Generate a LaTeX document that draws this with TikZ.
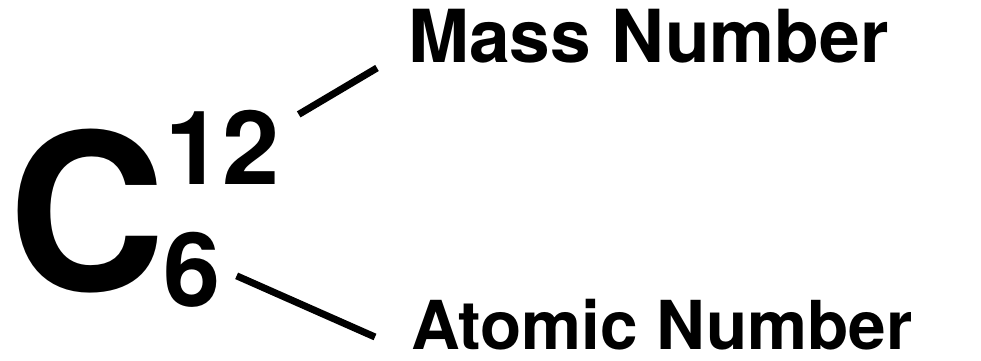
\documentclass[tikz,border=0pt]{standalone}
\usepackage{fontspec}
\setmainfont{TeX Gyre Heros}
\usepackage{tikz}

\begin{document}
\begin{tikzpicture}[x=0.025cm,y=-0.025cm,
    txt/.style={inner sep=0pt,anchor=base west,text depth=0pt,font=\bfseries},
    pointer/.style={line width=5pt}]
  \useasboundingbox (0,0) rectangle (981,361);
  % ── Symbol with its two numbers ───────────────────
  \node[txt,font=\bfseries\fontsize{155}{155}\selectfont] (elem) at (8,290) {C};
  \node[txt,font=\bfseries\fontsize{73}{73}\selectfont] (mass12) at (165,185) {12};
  \node[txt,font=\bfseries\fontsize{73}{73}\selectfont] (atom6) at (163,306) {6};
  % ── Labels on the right ───────────────────────────
  \node[txt,font=\bfseries\fontsize{52}{52}\selectfont] (masslbl) at (408,63) {Mass Number};
  \node[txt,font=\bfseries\fontsize{48}{48}\selectfont] (atomlbl) at (411,349) {Atomic Number};
  % ── Pointers (number → label) ─────────────────────
  \draw[pointer] ([shift={(19,4)}]mass12.north east) -- ([shift={(-31,5)}]masslbl.base west);
  \draw[pointer] ([shift={(16,7)}]atom6.east) -- ([shift={(-36,-12)}]atomlbl.base west);
\end{tikzpicture}
\end{document}
